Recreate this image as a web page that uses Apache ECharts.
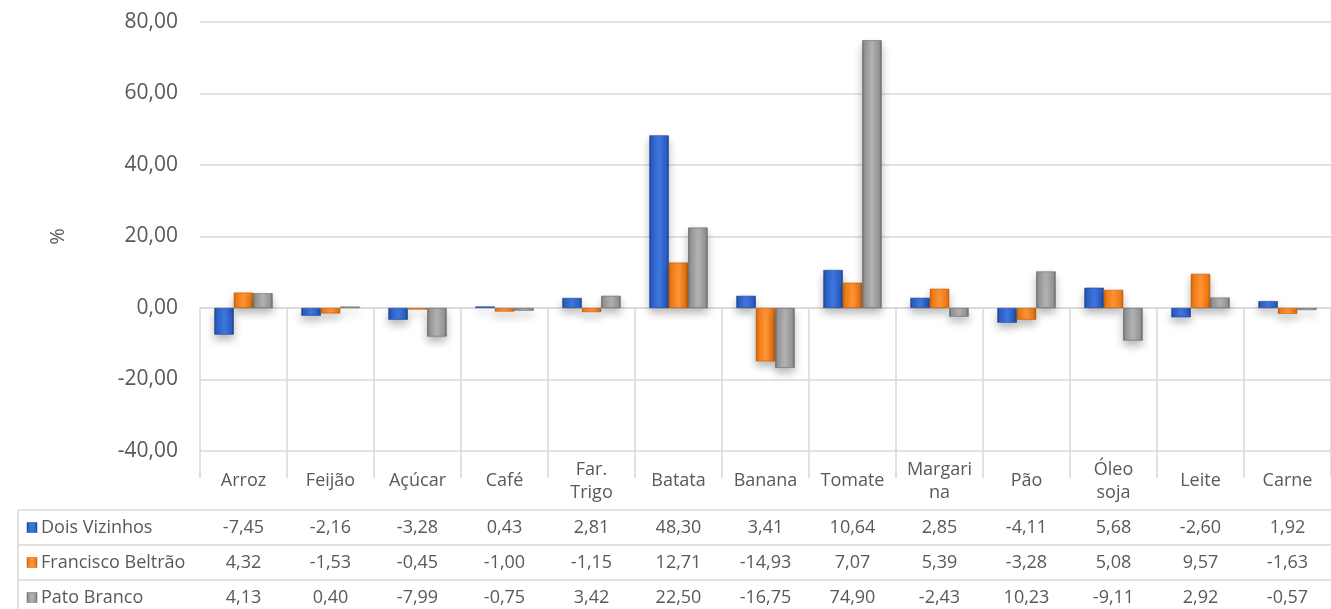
<!DOCTYPE html>
<html>
<head>
<meta charset="utf-8">
<script src="https://cdn.jsdelivr.net/npm/echarts@6/dist/echarts.min.js"></script>
<style>
html,body{margin:0;padding:0;background:#fff;}
#c{width:1331px;height:609px;}
</style>
</head>
<body>
<div id="c"></div>
<script>
// ---- data ----
const categories = ['Arroz','Feijão','Açúcar','Café','Far. Trigo','Batata','Banana','Tomate','Margarina','Pão','Óleo soja','Leite','Carne'];
const seriesNames = ['Dois Vizinhos','Francisco Beltrão','Pato Branco'];
const doisVizinhos = [-7.45,-2.16,-3.28,0.43,2.81,48.30,3.41,10.64,2.85,-4.11,5.68,-2.60,1.92];
const franciscoBeltrao = [4.32,-1.53,-0.45,-1.00,-1.15,12.71,-14.93,7.07,5.39,-3.28,5.08,9.57,-1.63];
const patoBranco = [4.13,0.40,-7.99,-0.75,3.42,22.50,-16.75,74.90,-2.43,10.23,-9.11,2.92,-0.57];
const yTicks = {min:-40, max:80, interval:20};
const yName = '%';

// ---- layout / style ----
const FONT = '"Open Sans", "DejaVu Sans", sans-serif';
const TXT = '#595959';
const LINE = '#d9d9d9';
const GL = 200, GT = 22, GW = 1138, GH = 429;
const GB = GT + GH; // 451
const headerH = 59, rowH = 35;
const tableLeft = 18;

const palettes = [
  {dark:'#1b4290', mid:'#2b5fc3', light:'#3f78e2'},
  {dark:'#bd5c08', mid:'#f07a14', light:'#ff9536'},
  {dark:'#666666', mid:'#959595', light:'#b3b3b3'}
];
function grad(p){
  return new echarts.graphic.LinearGradient(0,0,1,0,[
    {offset:0,color:p.dark},{offset:0.12,color:p.mid},{offset:0.5,color:p.light},
    {offset:0.88,color:p.mid},{offset:1,color:p.dark}
  ]);
}
const fmt = v => v.toFixed(2).replace('.', ',');
const wrapCat = v => v === 'Margarina' ? 'Margari\nna' : v.replace(' ', '\n');
const dataSets = [doisVizinhos, franciscoBeltrao, patoBranco];

const xAxes = [{
  type:'category', data:categories, gridIndex:0, position:'bottom',
  axisLine:{show:true, lineStyle:{color:LINE, width:1.5}},
  axisTick:{show:true, length:170, lineStyle:{color:LINE, width:1.5}},
  axisLabel:{color:TXT, fontFamily:FONT, fontSize:18, margin:30, verticalAlign:'middle',
    lineHeight:23, interval:0, align:'center', formatter:wrapCat},
  splitLine:{show:false}
}];
dataSets.forEach((arr,i)=>{
  xAxes.push({
    type:'category', data:arr.map(fmt), gridIndex:0, position:'bottom',
    axisLine:{show:false}, axisTick:{show:false}, splitLine:{show:false},
    axisLabel:{color:TXT, fontFamily:FONT, fontSize:18, interval:0,
      margin: headerH + rowH*i + rowH/2, verticalAlign:'middle'}
  });
});

const series = dataSets.map((arr,i)=>({
  name:seriesNames[i], type:'bar', xAxisIndex:0, yAxisIndex:0, data:arr,
  barGap:'0%', barCategoryGap:'33%',
  itemStyle:{color:grad(palettes[i]), borderColor:palettes[i].dark, borderWidth:0.6,
    shadowBlur:8, shadowOffsetY:5, shadowColor:'rgba(0,0,0,0.28)'}
}));

const graphics = [];
for (let r=0;r<3;r++){
  const y = GB + headerH + rowH*r;
  graphics.push({type:'line', shape:{x1:tableLeft,y1:y,x2:GL+GW,y2:y}, style:{stroke:LINE,lineWidth:1.5}, silent:true});
}
graphics.push({type:'line', shape:{x1:tableLeft,y1:GB+headerH,x2:tableLeft,y2:700}, style:{stroke:LINE,lineWidth:1.5}, silent:true});
seriesNames.forEach((n,i)=>{
  const cy = GB + headerH + rowH*i + rowH/2;
  graphics.push({type:'rect', shape:{x:27,y:cy-5,width:10,height:10},
    style:{fill:grad(palettes[i]), stroke:palettes[i].dark, lineWidth:0.5}, silent:true});
  graphics.push({type:'text', x:41, y:cy, style:{text:n, fill:TXT, font:'18px '+FONT, textVerticalAlign:'middle', textAlign:'left'}, silent:true});
});

const chart = echarts.init(document.getElementById('c'));
chart.setOption({
  animation:false,
  backgroundColor:'#fff',
  grid:{left:GL, top:GT, width:GW, height:GH, containLabel:false},
  xAxis:xAxes,
  yAxis:{type:'value', min:yTicks.min, max:yTicks.max, interval:yTicks.interval,
    name:yName, nameLocation:'middle', nameGap:132, nameRotate:90,
    nameTextStyle:{color:TXT, fontFamily:FONT, fontSize:20},
    axisLine:{show:false}, axisTick:{show:false},
    axisLabel:{color:TXT, fontFamily:FONT, fontSize:21, margin:22, formatter:v=>fmt(v)},
    splitLine:{show:true, lineStyle:{color:LINE, width:1.5}}
  },
  series:series,
  graphic:graphics
});
</script>
</body>
</html>
